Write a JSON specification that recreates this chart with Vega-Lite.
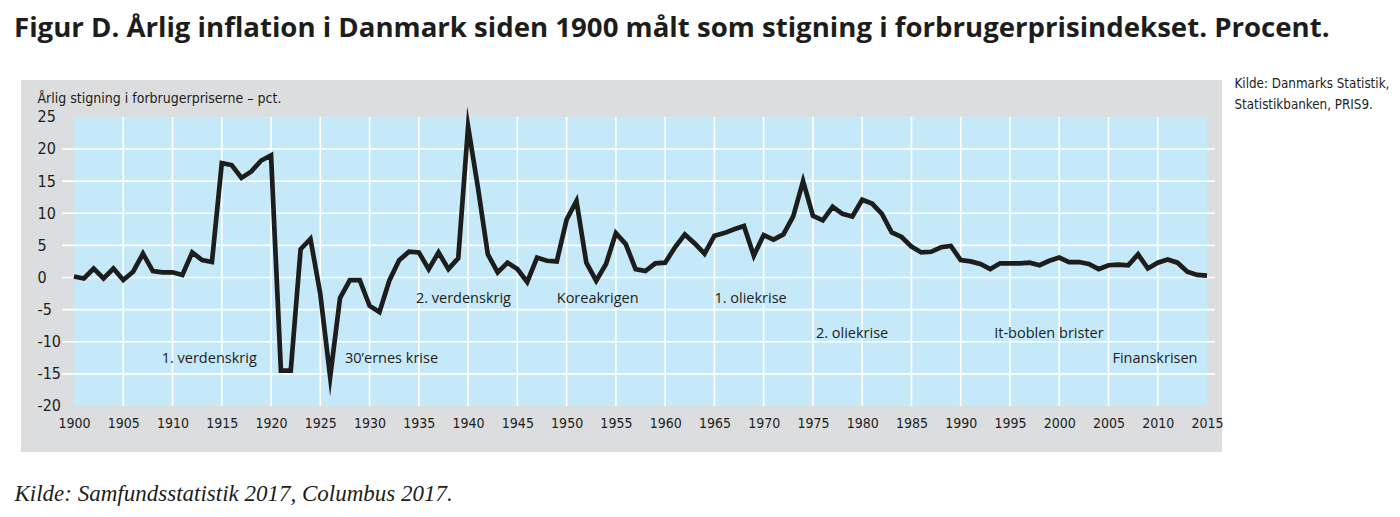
{
  "$schema": "https://vega.github.io/schema/vega-lite/v6.json",
  "width": 1201,
  "height": 372,
  "autosize": {"type": "none"},
  "padding": {"left": 21, "top": 80, "right": 178, "bottom": 65},
  "background": "#ffffff",
  "view": {"fill": "#dcdddf", "stroke": null},
  "title": {
    "text": "Figur D. Årlig inflation i Danmark siden 1900 målt som stigning i forbrugerprisindekset. Procent.",
    "anchor": "start",
    "frame": "group",
    "dx": -7,
    "offset": 11,
    "baseline": "alphabetic",
    "font": "Open Sans",
    "fontSize": 27.6,
    "fontWeight": "bold",
    "color": "#1d1d1b"
  },
  "datasets": {
    "cpi": [
      {"year": 1900, "inflation": 0.15}, {"year": 1901, "inflation": -0.15}, {"year": 1902, "inflation": 1.4},
      {"year": 1903, "inflation": -0.15}, {"year": 1904, "inflation": 1.4}, {"year": 1905, "inflation": -0.4},
      {"year": 1906, "inflation": 0.9}, {"year": 1907, "inflation": 3.7}, {"year": 1908, "inflation": 1.0},
      {"year": 1909, "inflation": 0.8}, {"year": 1910, "inflation": 0.8}, {"year": 1911, "inflation": 0.4},
      {"year": 1912, "inflation": 3.9}, {"year": 1913, "inflation": 2.7}, {"year": 1914, "inflation": 2.4},
      {"year": 1915, "inflation": 17.8}, {"year": 1916, "inflation": 17.5}, {"year": 1917, "inflation": 15.5},
      {"year": 1918, "inflation": 16.5}, {"year": 1919, "inflation": 18.2}, {"year": 1920, "inflation": 19.0},
      {"year": 1921, "inflation": -14.5}, {"year": 1922, "inflation": -14.5}, {"year": 1923, "inflation": 4.4},
      {"year": 1924, "inflation": 6.0}, {"year": 1925, "inflation": -2.6}, {"year": 1926, "inflation": -15.5},
      {"year": 1927, "inflation": -3.2}, {"year": 1928, "inflation": -0.4}, {"year": 1929, "inflation": -0.4},
      {"year": 1930, "inflation": -4.4}, {"year": 1931, "inflation": -5.4}, {"year": 1932, "inflation": -0.5},
      {"year": 1933, "inflation": 2.7}, {"year": 1934, "inflation": 4.0}, {"year": 1935, "inflation": 3.9},
      {"year": 1936, "inflation": 1.3}, {"year": 1937, "inflation": 3.9}, {"year": 1938, "inflation": 1.3},
      {"year": 1939, "inflation": 3.0}, {"year": 1940, "inflation": 23.5}, {"year": 1941, "inflation": 14.0},
      {"year": 1942, "inflation": 3.6}, {"year": 1943, "inflation": 0.8}, {"year": 1944, "inflation": 2.3},
      {"year": 1945, "inflation": 1.3}, {"year": 1946, "inflation": -0.7}, {"year": 1947, "inflation": 3.1},
      {"year": 1948, "inflation": 2.6}, {"year": 1949, "inflation": 2.5}, {"year": 1950, "inflation": 9.0},
      {"year": 1951, "inflation": 11.9}, {"year": 1952, "inflation": 2.3}, {"year": 1953, "inflation": -0.5},
      {"year": 1954, "inflation": 2.1}, {"year": 1955, "inflation": 6.9}, {"year": 1956, "inflation": 5.2},
      {"year": 1957, "inflation": 1.3}, {"year": 1958, "inflation": 1.0}, {"year": 1959, "inflation": 2.2},
      {"year": 1960, "inflation": 2.3}, {"year": 1961, "inflation": 4.7}, {"year": 1962, "inflation": 6.7},
      {"year": 1963, "inflation": 5.3}, {"year": 1964, "inflation": 3.7}, {"year": 1965, "inflation": 6.5},
      {"year": 1966, "inflation": 6.9}, {"year": 1967, "inflation": 7.5}, {"year": 1968, "inflation": 8.0},
      {"year": 1969, "inflation": 3.4}, {"year": 1970, "inflation": 6.6}, {"year": 1971, "inflation": 5.9},
      {"year": 1972, "inflation": 6.7}, {"year": 1973, "inflation": 9.5}, {"year": 1974, "inflation": 15.0},
      {"year": 1975, "inflation": 9.6}, {"year": 1976, "inflation": 8.9}, {"year": 1977, "inflation": 11.0},
      {"year": 1978, "inflation": 9.9}, {"year": 1979, "inflation": 9.5}, {"year": 1980, "inflation": 12.1},
      {"year": 1981, "inflation": 11.5}, {"year": 1982, "inflation": 9.9}, {"year": 1983, "inflation": 7.0},
      {"year": 1984, "inflation": 6.3}, {"year": 1985, "inflation": 4.8}, {"year": 1986, "inflation": 3.9},
      {"year": 1987, "inflation": 4.0}, {"year": 1988, "inflation": 4.7}, {"year": 1989, "inflation": 4.9},
      {"year": 1990, "inflation": 2.7}, {"year": 1991, "inflation": 2.5}, {"year": 1992, "inflation": 2.1},
      {"year": 1993, "inflation": 1.3}, {"year": 1994, "inflation": 2.2}, {"year": 1995, "inflation": 2.2},
      {"year": 1996, "inflation": 2.2}, {"year": 1997, "inflation": 2.3}, {"year": 1998, "inflation": 1.9},
      {"year": 1999, "inflation": 2.6}, {"year": 2000, "inflation": 3.1}, {"year": 2001, "inflation": 2.4},
      {"year": 2002, "inflation": 2.4}, {"year": 2003, "inflation": 2.1}, {"year": 2004, "inflation": 1.3},
      {"year": 2005, "inflation": 1.9}, {"year": 2006, "inflation": 2.0}, {"year": 2007, "inflation": 1.9},
      {"year": 2008, "inflation": 3.6}, {"year": 2009, "inflation": 1.4}, {"year": 2010, "inflation": 2.3},
      {"year": 2011, "inflation": 2.8}, {"year": 2012, "inflation": 2.3}, {"year": 2013, "inflation": 0.9},
      {"year": 2014, "inflation": 0.4}, {"year": 2015, "inflation": 0.3}
    ],
    "vgrid": [
      {"year": 1905}, {"year": 1910}, {"year": 1915}, {"year": 1920}, {"year": 1925}, {"year": 1930},
      {"year": 1935}, {"year": 1940}, {"year": 1945}, {"year": 1950}, {"year": 1955}, {"year": 1960},
      {"year": 1965}, {"year": 1970}, {"year": 1975}, {"year": 1980}, {"year": 1985}, {"year": 1990},
      {"year": 1995}, {"year": 2000}, {"year": 2005}, {"year": 2010}
    ],
    "hgrid": [
      {"v": -15}, {"v": -10}, {"v": -5}, {"v": 0}, {"v": 5}, {"v": 10}, {"v": 15}, {"v": 20}
    ],
    "events": [
      {"year": 1908.9, "value": -12.7, "label": "1. verdenskrig"},
      {"year": 1927.5, "value": -12.7, "label": "30’ernes krise"},
      {"year": 1934.7, "value": -3.3, "label": "2. verdenskrig"},
      {"year": 1949.0, "value": -3.3, "label": "Koreakrigen"},
      {"year": 1965.0, "value": -3.3, "label": "1. oliekrise"},
      {"year": 1975.3, "value": -8.8, "label": "2. oliekrise"},
      {"year": 1993.4, "value": -8.8, "label": "It-boblen brister"},
      {"year": 2005.4, "value": -12.7, "label": "Finanskrisen"}
    ]
  },
  "layer": [
    {
      "data": {"values": [{"a": 1}]},
      "mark": {"type": "rect", "color": "#c6e9f9"},
      "encoding": {
        "x": {"datum": 1900, "type": "quantitative", "scale": {"domain": [1894.62, 2016.52], "nice": false, "zero": false}, "axis": null},
        "x2": {"datum": 2015},
        "y": {"datum": -20, "type": "quantitative", "scale": {"domain": [-27.16, 30.73], "nice": false, "zero": false}, "axis": null},
        "y2": {"datum": 25}
      }
    },
    {
      "data": {"name": "vgrid"},
      "mark": {"type": "rule", "color": "#ffffff", "strokeWidth": 1.6},
      "encoding": {
        "x": {"field": "year", "type": "quantitative", "scale": {"domain": [1894.62, 2016.52], "nice": false, "zero": false}, "axis": null},
        "y": {"datum": -20, "type": "quantitative", "scale": {"domain": [-27.16, 30.73], "nice": false, "zero": false}, "axis": null},
        "y2": {"datum": 25}
      }
    },
    {
      "data": {"name": "hgrid"},
      "mark": {"type": "rule", "color": "#ffffff", "strokeWidth": 1.6},
      "encoding": {
        "y": {
          "field": "v", "type": "quantitative",
          "scale": {"domain": [-27.16, 30.73], "nice": false, "zero": false},
          "axis": {
            "orient": "right", "labels": false, "ticks": false, "domain": false, "grid": false,
            "title": ["Kilde: Danmarks Statistik,", "Statistikbanken, PRIS9."],
            "titleAngle": 0, "titleAlign": "left", "titleBaseline": "alphabetic",
            "titleX": 12, "titleY": 7, "titleLineHeight": 21,
            "titleFont": "DejaVu Sans Condensed, sans-serif",
            "titleFontSize": 13.3, "titleFontWeight": "normal", "titleColor": "#1d1d1b"
          }
        },
        "x": {"datum": 1898.78, "type": "quantitative", "scale": {"domain": [1894.62, 2016.52], "nice": false, "zero": false}, "axis": null},
        "x2": {"datum": 2015.81}
      }
    },
    {
      "data": {"name": "cpi"},
      "mark": {"type": "line", "color": "#1d1d1b", "strokeWidth": 4.7, "strokeJoin": "miter", "strokeMiterLimit": 10},
      "encoding": {
        "x": {
          "field": "year", "type": "quantitative",
          "scale": {"domain": [1894.62, 2016.52], "nice": false, "zero": false},
          "axis": {
            "orient": "bottom",
            "values": [1900, 1905, 1910, 1915, 1920, 1925, 1930, 1935, 1940, 1945, 1950, 1955, 1960, 1965, 1970, 1975, 1980, 1985, 1990, 1995, 2000, 2005, 2010, 2015],
            "format": "d", "labelOverlap": false, "labelFlush": false,
            "ticks": false, "tickSize": 0, "domain": false, "grid": false,
            "labelPadding": -29, "labelBaseline": "middle",
            "labelFont": "DejaVu Sans Condensed, sans-serif",
            "labelFontSize": 14, "labelColor": "#1d1d1b",
            "title": "Kilde: Samfundsstatistik 2017, Columbus 2017.",
            "titleX": -7, "titleY": 48, "titleAlign": "left", "titleBaseline": "alphabetic",
            "titleFont": "Liberation Serif", "titleFontStyle": "italic", "titleFontSize": 23,
            "titleFontWeight": "normal", "titleColor": "#1d1d1b"
          }
        },
        "y": {
          "field": "inflation", "type": "quantitative",
          "scale": {"domain": [-27.16, 30.73], "nice": false, "zero": false},
          "axis": {
            "orient": "left",
            "values": [-20, -15, -10, -5, 0, 5, 10, 15, 20, 25],
            "labelExpr": "'' + datum.value",
            "ticks": false, "tickSize": 0, "domain": false, "grid": false,
            "labelAlign": "left", "labelBaseline": "middle", "labelPadding": -16,
            "labelFont": "DejaVu Sans Condensed, sans-serif",
            "labelFontSize": 16, "labelColor": "#1d1d1b",
            "title": "Årlig stigning i forbrugerpriserne – pct.",
            "titleAngle": 0, "titleAlign": "left", "titleBaseline": "alphabetic",
            "titleX": 16, "titleY": 22,
            "titleFont": "DejaVu Sans Condensed, sans-serif",
            "titleFontSize": 14, "titleFontWeight": "normal", "titleColor": "#1d1d1b"
          }
        }
      }
    },
    {
      "data": {"name": "events"},
      "mark": {"type": "text", "align": "left", "baseline": "middle", "font": "Open Sans", "fontSize": 14.5, "color": "#1d1d1b"},
      "encoding": {
        "x": {"field": "year", "type": "quantitative", "scale": {"domain": [1894.62, 2016.52], "nice": false, "zero": false}, "axis": null},
        "y": {"field": "value", "type": "quantitative", "scale": {"domain": [-27.16, 30.73], "nice": false, "zero": false}, "axis": null},
        "text": {"field": "label"}
      }
    }
  ],
  "resolve": {"axis": {"x": "independent", "y": "independent"}}
}
